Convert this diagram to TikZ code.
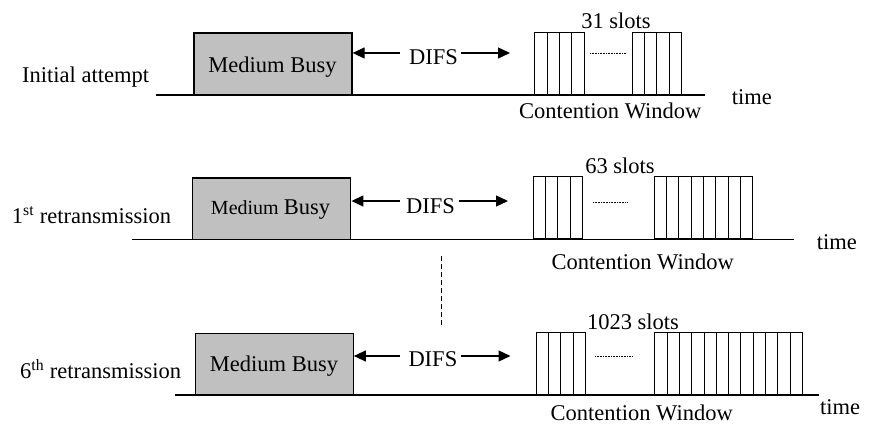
\documentclass[tikz,border=0pt]{standalone}
\usepackage{fontspec}
\setmainfont{Liberation Serif}
\usetikzlibrary{arrows.meta}
\definecolor{busygray}{RGB}{192,192,192}
\begin{document}
\begin{tikzpicture}[x=1pt,y=-1pt,
  txt/.style={font=\fontsize{22.5}{27}\selectfont, inner sep=0pt},
  busybox/.style={draw, fill=busygray, line width=1.3pt, minimum width=158pt,
                  minimum height=61.7pt, inner sep=0pt},
  slotbox/.style={draw, line width=1pt, minimum width=12.3pt, minimum height=62pt,
                  inner sep=0pt, anchor=south west},
  axis/.style={line width=1.3pt},
  arr/.style={line width=1.3pt, -{Triangle[length=12pt,width=11pt]}},
  gapline/.style={line width=0.8pt, dash pattern=on 0.8pt off 0.8pt},
  skipline/.style={line width=1.2pt, dash pattern=on 5pt off 3pt}]

\useasboundingbox (0,0) rectangle (879,427);

% ---- time axes ----
\coordinate (t1a) at (156,95);  \coordinate (t1b) at (705,95);
\coordinate (t2a) at (132,239.3); \coordinate (t2b) at (794,239.3);
\coordinate (t3a) at (175,395); \coordinate (t3b) at (819,395);
\draw[axis] (t1a) -- (t1b);
\draw[axis] (t2a) -- (t2b);
\draw[axis] (t3a) -- (t3b);

% ---- busy periods ----
\node[busybox] (busy1) at (273,64) {};
\node[busybox] (busy2) at (271.8,208.8) {};
\node[busybox] (busy3) at (274.2,364.2) {};
\node[txt, anchor=base] (mb1) at (272.5,72.7) {Medium Busy};
\node[inner sep=0pt, anchor=base] (mb2) at (270.5,215)
  {\fontsize{20}{24}\selectfont Medium \fontsize{22.5}{27}\selectfont Busy};
\node[txt, anchor=base] (mb3) at (274,371.7) {Medium Busy};

% ---- attempt labels ----
\node[txt, anchor=base west] (lab1) at (22,82.7) {Initial attempt};
\node[txt, anchor=base west] (lab2) at (11.7,223.3) {1\textsuperscript{st} retransmission};
\node[txt, anchor=base west] (lab3) at (20,378.3) {6\textsuperscript{th} retransmission};

% ---- DIFS intervals ----
\node[txt, anchor=base west] (difs1) at (409,65) {DIFS};
\node[txt, anchor=base west] (difs2) at (406,213.3) {DIFS};
\node[txt, anchor=base west] (difs3) at (408.3,366.7) {DIFS};

\coordinate (la1) at (400,53);    \coordinate (ra1) at (461,53);    \coordinate (re1) at (510,53);
\coordinate (la2) at (400,201);   \coordinate (ra2) at (459,201);   \coordinate (re2) at (508,201);
\coordinate (la3) at (399.5,356); \coordinate (ra3) at (460.5,356); \coordinate (re3) at (510.5,356);

\draw[arr] (la1) -- (busy1.east |- la1);
\draw[arr] (la2) -- (busy2.east |- la2);
\draw[arr] (la3) -- (busy3.east |- la3);
\draw[arr] (ra1) -- (re1);
\draw[arr] (ra2) -- (re2);
\draw[arr] (ra3) -- (re3);

% ---- contention window slots ----
\foreach \r/\xa/\xb/\nb/\yb in {1/534.3/631.7/4/95, 2/532.7/653.7/8/239.3, 3/535.7/654.3/12/395} {
  \foreach \i in {1,...,4}
    \node[slotbox] (s\r a\i) at ({\xa+(\i-1)*12.3},\yb) {};
  \foreach \i in {1,...,\nb}
    \node[slotbox] (s\r b\i) at ({\xb+(\i-1)*12.3},\yb) {};
}

% elided slots
\coordinate (g1a) at (590,53);  \coordinate (g1b) at (626,53);
\coordinate (g2a) at (593,202); \coordinate (g2b) at (628,202);
\coordinate (g3a) at (595,356.7); \coordinate (g3b) at (632,356.7);
\draw[gapline] (g1a) -- (g1b);
\draw[gapline] (g2a) -- (g2b);
\draw[gapline] (g3a) -- (g3b);

% ---- window sizes ----
\node[txt, anchor=base] (n1) at (616,28.3) {31 slots};
\node[txt, anchor=base] (n2) at (620,173.3) {63 slots};
\node[txt, anchor=base] (n3) at (633,330) {1023 slots};

\node[txt, anchor=base] (cw1) at (610.3,118.3) {Contention Window};
\node[txt, anchor=base] (cw2) at (642.7,270) {Contention Window};
\node[txt, anchor=base] (cw3) at (641.7,421) {Contention Window};

\node[txt, anchor=base west] (time1) at (731.7,105) {time};
\node[txt, anchor=base west] (time2) at (816.7,250) {time};
\node[txt, anchor=base west] (time3) at (820,415) {time};

% ---- omitted retransmissions ----
\coordinate (k1) at (441.7,256); \coordinate (k2) at (441.7,327);
\draw[skipline] (k1) -- (k2);

\end{tikzpicture}
\end{document}
